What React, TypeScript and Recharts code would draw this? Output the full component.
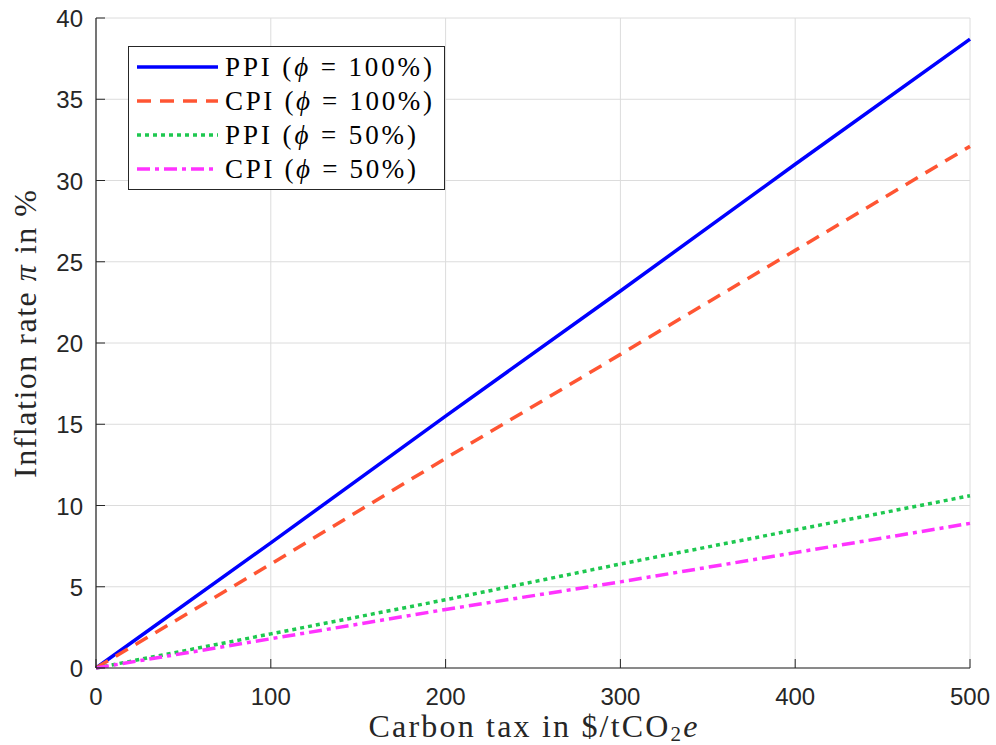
import { LineChart, Line, XAxis, YAxis, CartesianGrid } from 'recharts'

// carbon tax in $/tCO2e
const taxes = [0, 100, 200, 300, 400, 500]
// inflation rate in %
const ppiFull = [0, 7.7, 15.5, 23.2, 31.0, 38.7]
const cpiFull = [0, 6.4, 12.9, 19.3, 25.7, 32.1]
const ppiHalf = [0, 2.1, 4.2, 6.4, 8.5, 10.6]
const cpiHalf = [0, 1.8, 3.6, 5.3, 7.1, 8.9]

const xTicks = [0, 100, 200, 300, 400, 500]
const yTicks = [0, 5, 10, 15, 20, 25, 30, 35, 40]

const series = [
  { key: 'ppiFull', name: 'PPI', phi: '100%', color: '#0000ff', dash: undefined, textW: 207 },
  { key: 'cpiFull', name: 'CPI', phi: '100%', color: '#ff5533', dash: '14 9', textW: 207 },
  { key: 'ppiHalf', name: 'PPI', phi: '50%', color: '#1ec850', dash: '4 4', textW: 191 },
  { key: 'cpiHalf', name: 'CPI', phi: '50%', color: '#ff33ff', dash: '13 5 4 5', textW: 191 },
]

const data = taxes.map((t, i) => ({
  tax: t,
  ppiFull: ppiFull[i],
  cpiFull: cpiFull[i],
  ppiHalf: ppiHalf[i],
  cpiHalf: cpiHalf[i],
}))

const AXIS = '#262626'
const SANS = '"Liberation Sans", Arial, sans-serif'
const SERIF = '"Liberation Serif", "Times New Roman", serif'

const XTick = (props: any) => {
  const { x, y, payload } = props
  return (
    <g>
      <line x1={x} y1={y} x2={x} y2={y - 9} stroke={AXIS} strokeWidth={1} />
      <text x={x} y={y + 37} textAnchor="middle" fontSize={24} fill={AXIS} fontFamily={SANS}>
        {payload.value}
      </text>
    </g>
  )
}

const YTick = (props: any) => {
  const { x, y, payload } = props
  return (
    <g>
      <line x1={x} y1={y} x2={x + 9} y2={y} stroke={AXIS} strokeWidth={1} />
      <text x={x - 13} y={y + 9} textAnchor="end" fontSize={24} fill={AXIS} fontFamily={SANS}>
        {payload.value}
      </text>
    </g>
  )
}

const LegendBox = () => (
  <svg
    width={318}
    height={146}
    style={{ position: 'absolute', left: 128, top: 46, display: 'block' }}
  >
    <rect x={0.5} y={0.5} width={316} height={143} fill="#fff" stroke="#262626" strokeWidth={1} />
    {series.map((s, i) => {
      const cy = 21 + i * 34
      return (
        <g key={s.key}>
          <line x1={9} y1={cy} x2={90} y2={cy} stroke={s.color} strokeWidth={3.5} strokeDasharray={s.dash} />
          <text
            x={97}
            y={cy + 9}
            fontSize={27}
            fontFamily={SERIF}
            fill="#000"
            textLength={s.textW}
            lengthAdjust="spacing"
          >
            {s.name} (<tspan fontStyle="italic">ϕ</tspan> = {s.phi})
          </text>
        </g>
      )
    })}
  </svg>
)

export default function App() {
  return (
    <div style={{ position: 'absolute', left: 0, top: 0, width: 996, height: 745, background: '#fff' }}>
      <LineChart width={996} height={745} data={data} margin={{ top: 18, right: 26, bottom: 76, left: 95 }}>
        <CartesianGrid stroke="#dcdcdc" strokeWidth={1} />
        <XAxis
          dataKey="tax"
          type="number"
          domain={[0, 500]}
          ticks={xTicks}
          height={1}
          tickSize={0}
          tickMargin={0}
          tick={<XTick />}
          axisLine={{ stroke: AXIS, strokeWidth: 1.2 }}
          tickLine={false}
          interval={0}
        />
        <YAxis
          type="number"
          domain={[0, 40]}
          ticks={yTicks}
          width={1}
          tickSize={0}
          tickMargin={0}
          tick={<YTick />}
          axisLine={{ stroke: AXIS, strokeWidth: 1.2 }}
          tickLine={false}
          interval={0}
        />
        {series.map(s => (
          <Line
            key={s.key}
            dataKey={s.key}
            stroke={s.color}
            strokeWidth={3.5}
            strokeDasharray={s.dash}
            dot={false}
            isAnimationActive={false}
            type="linear"
          />
        ))}
        <text
          x={533}
          y={737}
          textAnchor="middle"
          fontSize={32}
          fontFamily={SERIF}
          fill={AXIS}
          textLength={329}
          lengthAdjust="spacing"
        >
          Carbon tax in $/tCO<tspan dy={4} fontSize={21}>2</tspan>
          <tspan dy={-4} fontStyle="italic">e</tspan>
        </text>
        <text
          x={36}
          y={334}
          textAnchor="middle"
          fontSize={32}
          fontFamily={SERIF}
          fill={AXIS}
          textLength={288}
          lengthAdjust="spacing"
          transform="rotate(-90 36 334)"
        >
          Inflation rate <tspan fontStyle="italic">π</tspan> in %
        </text>
      </LineChart>
      <LegendBox />
    </div>
  )
}
